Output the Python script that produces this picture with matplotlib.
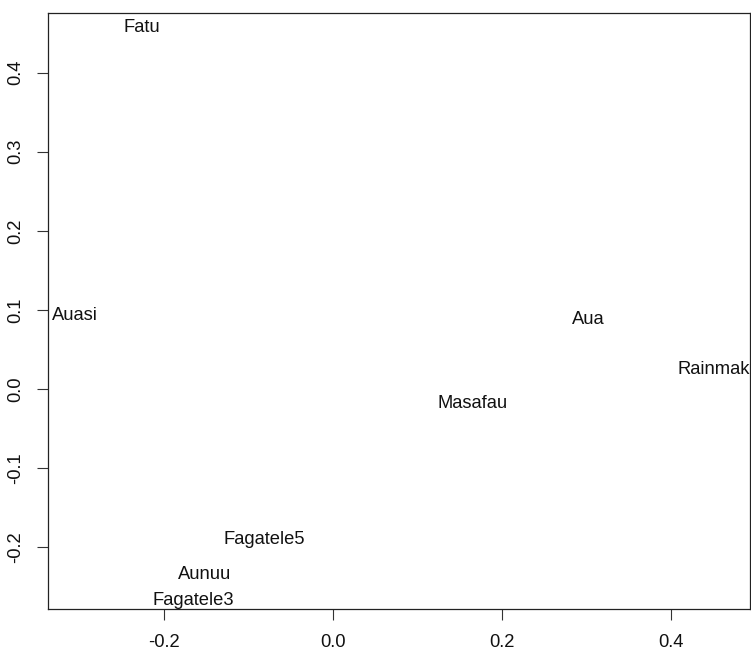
import matplotlib
matplotlib.use("Agg")
import matplotlib.pyplot as plt

# site labels and their ordination coordinates
sites = ["Fatu", "Auasi", "Aua", "Rainmaker", "Masafau",
         "Fagatele5", "Aunuu", "Fagatele3"]
dim1 = [-0.226, -0.305, 0.302, 0.460, 0.165, -0.081, -0.152, -0.165]
dim2 = [0.457, 0.093, 0.088, 0.025, -0.019, -0.191, -0.235, -0.268]

xticks = [-0.2, 0.0, 0.2, 0.4]
yticks = [-0.2, -0.1, 0.0, 0.1, 0.2, 0.3, 0.4]

plt.rcParams['font.family'] = ['Liberation Sans', 'DejaVu Sans']

fig = plt.figure(figsize=(7.51, 6.52), dpi=100)
ax = fig.add_axes([0.0635, 0.066, 0.9352, 0.9145])

# text labels only, clipped to the plot box like R does
for name, x, y in zip(sites, dim1, dim2):
    ax.text(x, y, name, ha="center", va="center", fontsize=13.2,
            color="#111111", clip_on=True)

ax.set_xlim(-0.3376, 0.4935)
ax.set_ylim(-0.2785, 0.476)
ax.set_xticks(xticks)
ax.set_xticklabels([f"{v:.1f}" for v in xticks])
ax.set_yticks(yticks)
ax.set_yticklabels([f"{v:.1f}" for v in yticks], rotation=90, va="center")
ax.tick_params(length=8, width=0.8, labelsize=13.2, color="#333333",
               labelcolor="#111111")
ax.tick_params(axis="x", pad=10)
ax.tick_params(axis="y", pad=9)
for s in ax.spines.values():
    s.set_linewidth(0.9)
    s.set_color("#222222")

fig.savefig("out.png", dpi=100)
